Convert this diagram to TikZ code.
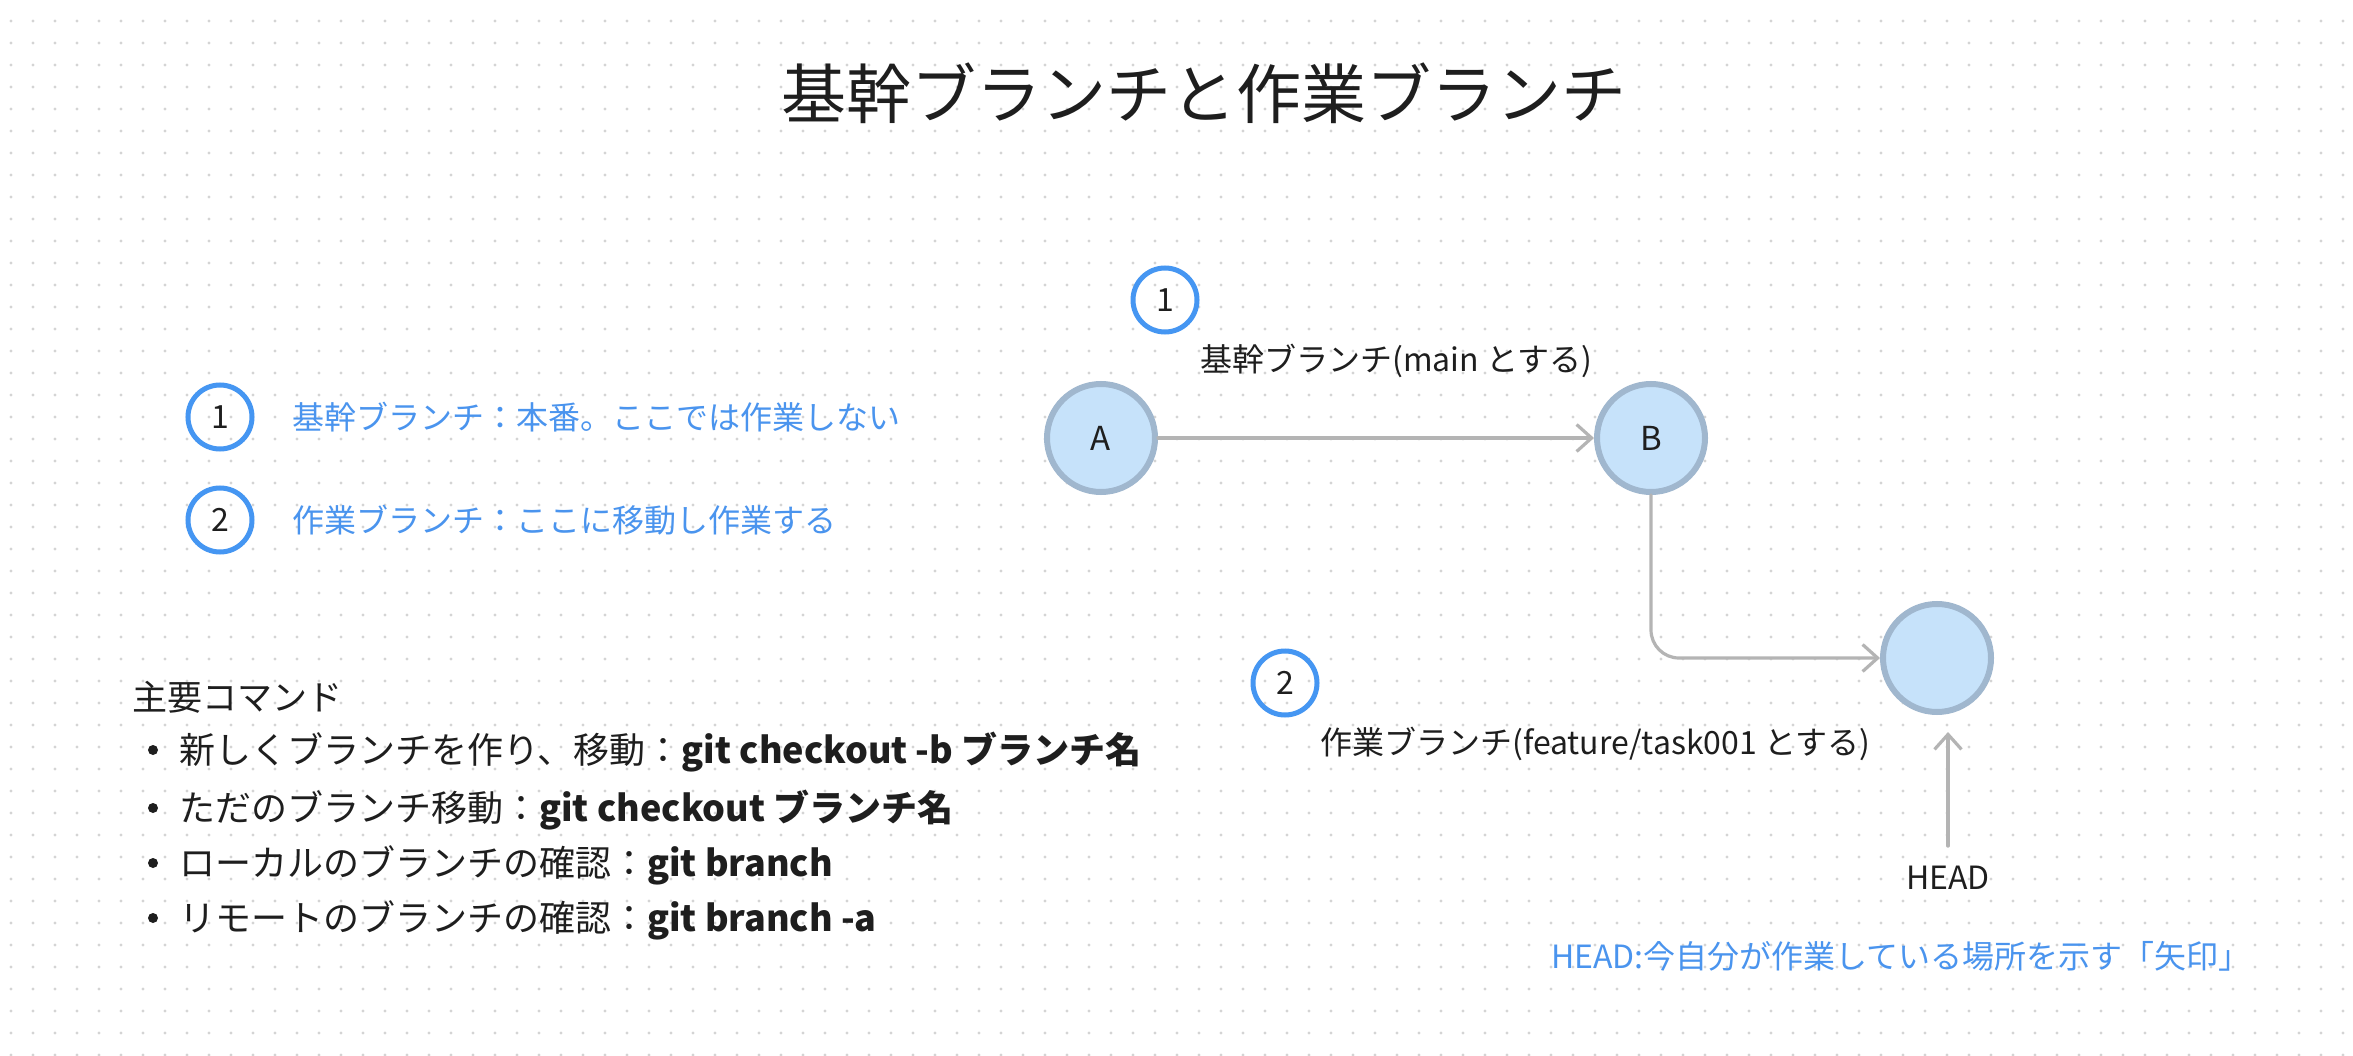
\documentclass[tikz,border=0pt]{standalone}
\usepackage{fontspec}
\setmainfont{Noto Sans CJK JP}
\usetikzlibrary{arrows.meta}

\definecolor{gridgray}{HTML}{D4D4D4}
\definecolor{nodefill}{HTML}{C6E2FA}
\definecolor{nodeline}{HTML}{A0B7CE}
\definecolor{badgeblue}{HTML}{4596F2}
\definecolor{noteblue}{HTML}{4A94EE}
\definecolor{linegray}{HTML}{B4B4B4}
\definecolor{textblack}{HTML}{1E1E1E}

\begin{document}
\begin{tikzpicture}[x=1pt,y=-1pt,
    commit/.style={circle,fill=nodefill,draw=nodeline,line width=6pt,minimum size=108pt,inner sep=0pt,text=textblack,font=\fontsize{33}{38}\selectfont},
    numbadge/.style={circle,draw=badgeblue,line width=5pt,minimum size=64pt,inner sep=0pt,text=textblack,font=\fontsize{32}{38}\selectfont},
    conn/.style={draw=linegray,line width=3.2pt,line cap=round,line join=round,-{Straight Barb[length=15pt,width=27pt]}},
    lbl/.style={anchor=west,inner sep=0pt,text height=25.6pt,text depth=1.6pt,text=textblack,font=\fontsize{32}{38}\selectfont},
    note/.style={lbl,text=noteblue},
    cmd/.style={lbl,text height=28.8pt,text depth=1.8pt,font=\fontsize{36}{42}\selectfont},
    bulletdot/.style={circle,fill=textblack,minimum size=10pt,inner sep=0pt}
  ]
  \fill[white] (0,0) rectangle (2353,1056);
  \useasboundingbox (0,0) rectangle (2353,1056);
  % dot grid
  \foreach \j in {0,...,47} {
    \fill[gridgray] \foreach \i in {0,...,106} {(11+22*\i,21+22*\j) circle (1.6)};
  }

  \node[text=textblack,inner sep=0pt,font=\fontsize{65}{78}\selectfont] (title) at (1204,93) {基幹ブランチと作業ブランチ};

  % legend
  \node[numbadge] (leg1) at (220,417) {1};
  \node[note] (legtext1) at (292,417) {基幹ブランチ：本番。ここでは作業しない};
  \node[numbadge] (leg2) at (220,520) {2};
  \node[note] (legtext2) at (292,520) {作業ブランチ：ここに移動し作業する};

  % commits
  \node[commit] (A) at (1101,438) {A};
  \node[commit] (B) at (1651,438) {B};
  \node[commit] (C) at (1937,658) {};
  \draw[conn] (A) -- (B);
  \draw[conn,rounded corners=28pt] (B) |- (C);

  \node[numbadge] (badge1) at (1165,300) {1};
  \node[lbl] (mainlbl) at (1200,360) {基幹ブランチ(main とする)};
  \node[numbadge] (badge2) at (1285,683) {2};
  \node[lbl] (featlbl) at (1320,742) {作業ブランチ(feature/task001 とする)};

  % HEAD
  \node[inner sep=0pt,text=textblack,font=\fontsize{32}{38}\selectfont] (head) at (1948,878) {HEAD};
  \coordinate (headtip) at (1948,732);
  \draw[conn] ([yshift=20pt]head.north) -- (headtip);
  \node[note] (headnote) at (1551,956) {HEAD:今自分が作業している場所を示す「矢印」};

  % commands
  \node[lbl,text height=28pt,text depth=1.75pt,font=\fontsize{35}{42}\selectfont] (cmdtitle) at (132,697) {主要コマンド};
  \node[bulletdot] (b1) at (153,750) {};
  \node[cmd] (cmd1) at (179,750) {新しくブランチを作り、移動：\textbf{git checkout -b ブランチ名}};
  \node[bulletdot] (b2) at (153,808) {};
  \node[cmd] (cmd2) at (179,808) {ただのブランチ移動：\textbf{git checkout ブランチ名}};
  \node[bulletdot] (b3) at (153,863) {};
  \node[cmd] (cmd3) at (179,863) {ローカルのブランチの確認：\textbf{git branch}};
  \node[bulletdot] (b4) at (153,918) {};
  \node[cmd] (cmd4) at (179,918) {リモートのブランチの確認：\textbf{git branch -a}};
\end{tikzpicture}
\end{document}
